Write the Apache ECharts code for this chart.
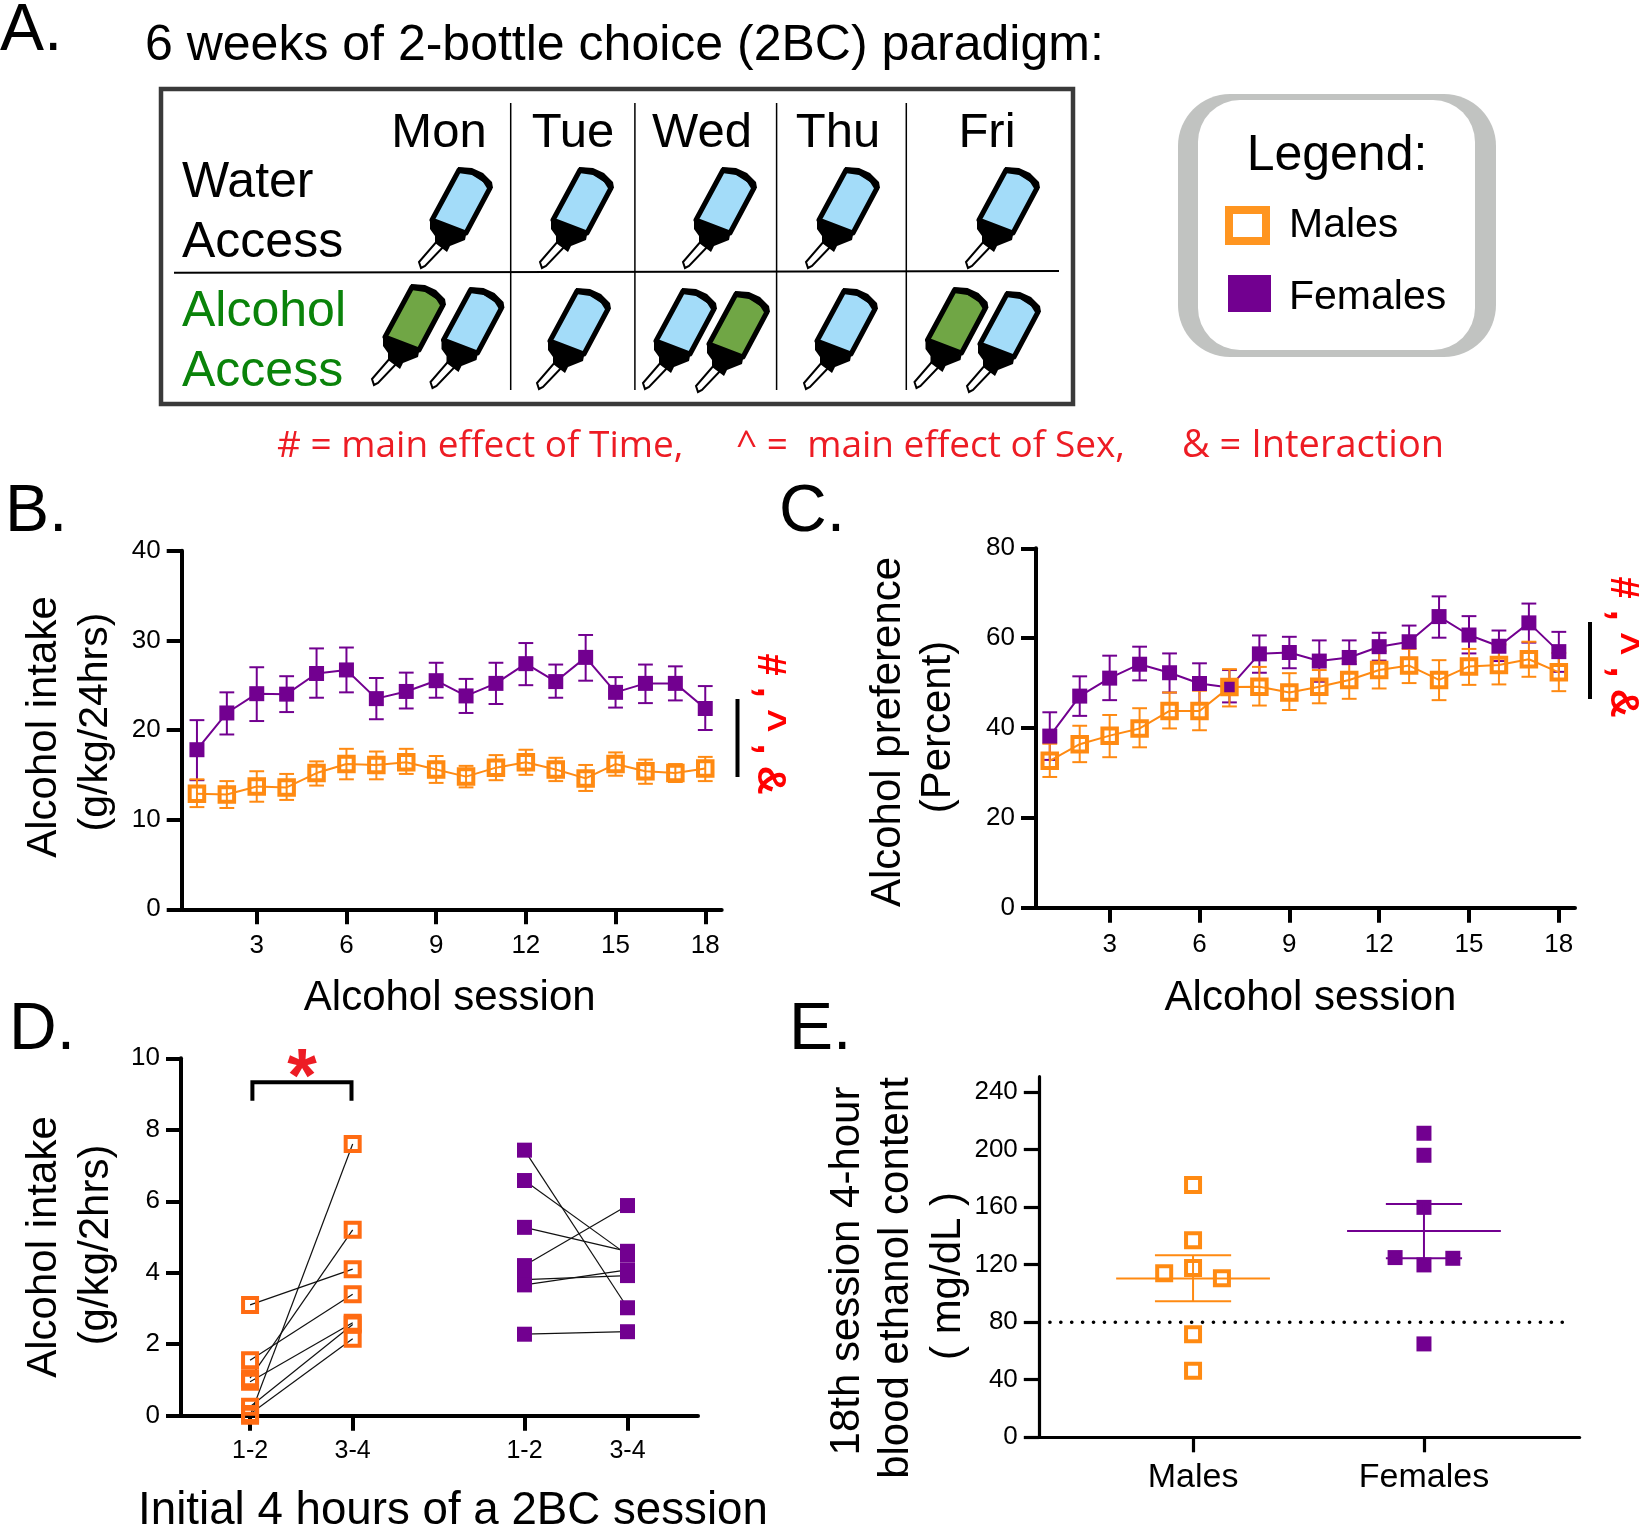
<!DOCTYPE html>
<html><head><meta charset="utf-8">
<style>html,body{margin:0;padding:0;background:#fff}#c{width:1640px;height:1525px}</style>
<script src="https://cdn.jsdelivr.net/npm/echarts@6/dist/echarts.min.js"></script>
</head><body><div id="c"></div>
<script>
// ---------- data ----------
const sessions = [1,2,3,4,5,6,7,8,9,10,11,12,13,14,15,16,17,18];
const sessionTicks = [3,6,9,12,15,18];

const intakeFemales = [17.8,21.9,24.05,24,26.3,26.7,23.5,24.3,25.5,23.8,25.2,27.4,25.4,28.1,24.2,25.2,25.2,22.4];
const intakeFemalesHi = [21.1,24.2,27,26,29.1,29.2,25.8,26.4,27.5,25.7,27.5,29.7,27.3,30.6,25.9,27.3,27.1,24.9];
const intakeFemalesLo = [14.4,19.5,21,22,23.6,24.2,21.2,22.4,23.6,21.9,22.9,25,23.6,25.5,22.5,23,23.3,20];
const intakeMales = [12.9,12.8,13.7,13.6,15.2,16.2,16.1,16.4,15.6,14.8,15.8,16.4,15.6,14.6,16.2,15.4,15.2,15.7];
const intakeMalesHi = [14.5,14.3,15.4,15.1,16.5,17.9,17.6,17.9,17.1,16,17.2,17.8,16.9,16.1,17.5,16.7,16.2,17];
const intakeMalesLo = [11.4,11.3,12,12.2,13.8,14.5,14.5,15.1,14.1,13.6,14.4,15,14.3,13.2,14.9,14,14.2,14.3];

const prefFemales = [38.2,47.1,51.1,54.2,52.3,49.9,49,56.5,56.8,54.9,55.7,58.1,59.2,64.8,60.7,58.2,63.4,57];
const prefFemalesHi = [43.5,51.5,56.1,58.1,56.6,54.4,52.9,60.6,60.3,59.5,59.5,61.2,62.8,69.3,64.9,61.7,67.7,61.4];
const prefFemalesLo = [32.9,42.7,46.2,50.6,47.9,45.5,45.7,52.3,53.3,50.3,54.2,55,55.6,60.1,56.6,54.9,59,52.5];
const prefMales = [32.7,36.4,38.3,39.9,43.8,43.8,49.1,49.2,47.9,49.2,50.7,52.9,53.9,50.7,53.7,54,55.3,52.4];
const prefMalesHi = [36.5,40.5,42.9,44.4,47.9,48.3,53.1,53.6,52.2,52.9,54.8,57.1,57.6,55.1,57.6,58.6,59.2,56.7];
const prefMalesLo = [29.1,32.4,33.5,35.7,39.9,39.5,44.8,45,44,45.5,46.5,48.8,50,46.2,49.6,49.7,51.4,48.2];

const hourLabels = ['1-2','3-4','1-2','3-4'];
const hourTicks = [1,2,3.674,4.678];
const hoursMalesEarly = [0,1.05,3.1,1.55,0.95,0.25,0.05];
const hoursMalesLate = [7.6,5.2,4.1,3.4,2.6,2.55,2.15];
const hoursFemalesEarly = [7.43,6.58,5.27,4.2,3.81,3.66,2.28];
const hoursFemalesLate = [3.02,4.5,4.6,5.88,3.92,4.08,2.35];

const becGroups = ['Males','Females'];
const becMales = [175.4,136.9,117.7,114,110.5,71.6,46.3];
const becMalesSlot = [0,0,0,-1,1,0,0];
const becFemales = [211.3,196,159.8,124.9,124.4,119.8,64.9];
const becFemalesSlot = [0,0,0,-1,1,0,0];
const becMean = [110.3,143.4];
const becHi = [126.5,162.2];
const becLo = [94.5,124.4];
const becThreshold = 80;
const becTicks = [0,40,80,120,160,200,240];

const dayNames = ['Mon','Tue','Wed','Thu','Fri'];

// ---------- style ----------
const ORANGE='#ff8a12', ORANGE2='#ff6b12', PURPLE='#720090', RED='#ed1c24', FONT='"Liberation Sans",Arial,sans-serif';
const BLUE='#a3dcf9', GREEN='#70a645';

function T(x,base,text,size,o={}){
  return {type:'text',x,y:base-0.30*size,z:20,style:{text,font:(o.weight||'normal')+' '+size+'px '+(o.family||FONT),fill:o.color||'#000',align:o.align||'left',verticalAlign:'middle'}};
}
function R(cx,cy,text,size,o={}){ // rotated, centred
  return {type:'text',x:cx,y:cy,rotation:o.rot===undefined?Math.PI/2:o.rot,z:20,style:{text,font:(o.weight||'normal')+' '+size+'px '+(o.family||FONT),fill:o.color||'#000',align:'center',verticalAlign:'middle'}};
}
function L(x1,y1,x2,y2,w,c){return {type:'line',z:15,shape:{x1,y1,x2,y2},style:{stroke:c||'#000',lineWidth:w}};}
function poly(points,style){return {type:'polygon',z:10,shape:{points},style};}
function bottle(x,y,fill){
  return {type:'group',x,y,z:10,children:[
    poly([[18,-27],[26,-23],[5,-1],[1,1],[-1,-5]],{fill:'#fff',stroke:'#000',lineWidth:2}),
    poly([[10,-48],[46,-32],[45,-27],[30,-21],[27,-15],[15,-24],[15,-31],[10,-38]],{fill:'#000'}),
    poly([[39,-97],[50,-96],[60,-91],[68,-84],[70,-79],[46,-34],[12,-47]],{fill,stroke:'#000',lineWidth:5,lineJoin:'round'}),
    poly([[38,-100],[52,-99],[63,-94],[72,-85],[73,-79],[68,-77],[63,-85],[52,-92],[38,-94]],{fill:'#000'})
  ]};
}
const bottleTips=[[420,267,BLUE],[541,267,BLUE],[684,267,BLUE],[807,267,BLUE],[967,267,BLUE],
  [373,384,GREEN],[431.5,387,BLUE],[538,388,BLUE],[644,388,BLUE],[697,391,GREEN],[805,388,BLUE],[915.5,387,GREEN],[968,391,BLUE]];
const dayCentres=[439,573,702,838,987];

const graphics=[
  T(0,52,'A.',66),T(5,533,'B.',66),T(779,533,'C.',66),T(9,1051,'D.',66),T(789,1051,'E.',66),
  T(145,61,'6 weeks of 2-bottle choice (2BC) paradigm:',50),
  {type:'rect',z:5,shape:{x:161,y:89,width:912,height:315},style:{fill:'#fff',stroke:'#3a3a3a',lineWidth:4.5}},
  L(510.7,103,510.7,390,1.5),L(634.9,103,634.9,390,1.5),L(776.6,103,776.6,390,1.5),L(906.3,103,906.3,390,1.5),
  L(174,272.7,1059,271,2),
  ...dayNames.map((d,i)=>T(dayCentres[i],148,d,49,{align:'center'})),
  T(182,198,'Water',50),T(182,258,'Access',50),
  T(182,327,'Alcohol',50,{color:'#0a830a'}),T(182,387,'Access',50,{color:'#0a830a'}),
  ...bottleTips.map(b=>bottle(b[0],b[1],b[2])),
  // legend box
  {type:'rect',z:5,shape:{x:1178,y:94,width:318,height:263,r:52},style:{fill:'#c1c3c1'}},
  {type:'rect',z:6,shape:{x:1198,y:100,width:277,height:250,r:42},style:{fill:'#fff'}},
  T(1337,171,'Legend:',50,{align:'center'}),
  {type:'rect',z:10,shape:{x:1229,y:210,width:37,height:31},style:{fill:'#fff',stroke:'#ff9520',lineWidth:8}},
  {type:'rect',z:10,shape:{x:1228,y:275,width:43,height:37},style:{fill:PURPLE}},
  T(1289,238,'Males',41),T(1289,310,'Females',41),
  // red key
  T(277,458,'# = main effect of Time,',37,{color:RED,family:'"Open Sans",sans-serif'}),
  T(736,458,'^ =  main effect of Sex,',37,{color:RED,family:'"Open Sans",sans-serif'}),
  T(1182,458,'& = Interaction',38,{color:RED,family:'"Open Sans",sans-serif'}),
  // y titles
  R(44,727,'Alcohol intake',42),R(96,722,'(g/kg/24hrs)',41),
  R(888,732,'Alcohol preference',42),R(938,727,'(Percent)',42),
  R(44,1247,'Alcohol intake',42),R(96,1245,'(g/kg/2hrs)',42),
  R(847,1271,'18th session 4-hour',42),R(896,1278,'blood ethanol content',42),R(948,1276,'( mg/dL )',42),
  // stat marks
  L(737.5,699,737.5,777,4),L(1590,622,1590,699,4),
  R(769,724,'# , ^ , &',40,{rot:-Math.PI/2,color:'#f00',weight:'bold'}),
  R(1622,647,'# , ^ , &',40,{rot:-Math.PI/2,color:'#f00',weight:'bold'}),
  {type:'polyline',z:15,shape:{points:[[252.4,1100.7],[252.4,1082.3],[351.5,1082.3],[351.5,1100.7]]},style:{stroke:'#000',lineWidth:4,fill:'none'}},
  T(302,1103,'*',76,{align:'center',color:RED,weight:'bold'}),
  // x title of panel D
  T(453,1525,'Initial 4 hours of a 2BC session',45.7,{align:'center'})
];

// ---------- helpers ----------
function whisker(name,xIdx,yIdx,xs,lo,hi,color,capPx){
  return {type:'custom',name,xAxisIndex:xIdx,yAxisIndex:yIdx,clip:false,z:2,
    encode:{x:0,y:[1,2]},data:xs.map((x,i)=>[x,lo[i],hi[i]]),
    renderItem(p,api){
      const x=api.value(0),a=api.coord([x,api.value(1)]),b=api.coord([x,api.value(2)]);
      const s={stroke:color,lineWidth:2};
      return {type:'group',children:[
        {type:'line',shape:{x1:a[0],y1:a[1],x2:b[0],y2:b[1]},style:s},
        {type:'line',shape:{x1:a[0]-capPx,y1:a[1],x2:a[0]+capPx,y2:a[1]},style:s},
        {type:'line',shape:{x1:b[0]-capPx,y1:b[1],x2:b[0]+capPx,y2:b[1]},style:s}]};
    }};
}
const hollow=(c,w)=>({color:'rgba(255,255,255,0)',borderColor:c,borderWidth:w,opacity:1});
function trace(name,xIdx,yIdx,xs,ys,color,male){
  return {type:'line',name,xAxisIndex:xIdx,yAxisIndex:yIdx,clip:false,z:3,symbol:'rect',
    symbolSize:male?14.5:15,showSymbol:true,data:xs.map((x,i)=>[x,ys[i]]),
    lineStyle:{color,width:2},itemStyle:male?hollow(color,4):{color}};
}
function xAxisBase(gridIndex,min,max,ticks,o={}){
  return {type:'value',gridIndex,min,max,splitLine:{show:false},
    axisLine:{onZero:false,lineStyle:{color:'#000',width:o.w||4}},
    axisTick:{show:true,customValues:ticks,length:15,lineStyle:{color:'#000',width:o.w||4}},
    axisLabel:{customValues:ticks,margin:o.margin||24,fontFamily:FONT,fontSize:o.size||26,color:'#000',
      formatter:o.fmt||(v=>String(v)),showMinLabel:true,showMaxLabel:true,hideOverlap:false},
    name:o.name||'',nameLocation:'middle',nameGap:o.gap||76,
    nameTextStyle:{fontFamily:FONT,fontSize:o.nameSize||42,color:'#000',padding:o.pad||0}};
}
function yAxisBase(gridIndex,max,interval,o={}){
  const a={type:'value',gridIndex,min:0,max,splitLine:{show:false},
    axisLine:{onZero:false,lineStyle:{color:'#000',width:o.w||4}},
    axisTick:{show:true,length:15,lineStyle:{color:'#000',width:o.w||4}},
    axisLabel:{margin:21,fontFamily:FONT,fontSize:26,color:'#000',showMaxLabel:true,hideOverlap:false}};
  if(interval) a.interval=interval;
  if(o.ticks){a.axisTick.customValues=o.ticks;a.axisLabel.customValues=o.ticks;}
  return a;
}

// panel D
const dLines=[];
hoursMalesEarly.forEach((v,i)=>dLines.push({type:'line',xAxisIndex:2,yAxisIndex:2,clip:false,z:3,symbol:'none',
  data:[[hourTicks[0],v],[hourTicks[1],hoursMalesLate[i]]],lineStyle:{color:'#111',width:1.2}}));
hoursFemalesEarly.forEach((v,i)=>dLines.push({type:'line',xAxisIndex:2,yAxisIndex:2,clip:false,z:3,symbol:'none',
  data:[[hourTicks[2],v],[hourTicks[3],hoursFemalesLate[i]]],lineStyle:{color:'#111',width:1.2}}));
const dot=(name,xi,data,male,c,size,bw)=>({type:'scatter',name,xAxisIndex:xi,yAxisIndex:xi,clip:false,z:4,symbol:'rect',
  symbolSize:size,data,itemStyle:male?hollow(c,bw):{color:c,opacity:1}});

// panel E
const JIT=0.125;
const becSummary={type:'custom',xAxisIndex:3,yAxisIndex:3,clip:false,z:5,encode:{x:0,y:[1,2,3]},
  data:[[1,becLo[0],becHi[0],becMean[0]],[2,becLo[1],becHi[1],becMean[1]]],
  renderItem(p,api){
    const x=api.value(0),c=x===1?ORANGE:PURPLE,s={stroke:c,lineWidth:2};
    const h=(v,d)=>{const a=api.coord([x-d,v]),b=api.coord([x+d,v]);return {type:'line',shape:{x1:a[0],y1:a[1],x2:b[0],y2:b[1]},style:s};};
    const a=api.coord([x,api.value(1)]),b=api.coord([x,api.value(2)]);
    return {type:'group',children:[h(api.value(3),0.333),h(api.value(1),0.165),h(api.value(2),0.165),
      {type:'line',shape:{x1:a[0],y1:a[1],x2:b[0],y2:b[1]},style:s}]};
  }};
const becLine={type:'line',xAxisIndex:3,yAxisIndex:3,symbol:'none',z:3,clip:false,
  data:[[0.38,becThreshold],[2.63,becThreshold]],
  lineStyle:{color:'#000',width:3.6,type:[0.1,10.8],cap:'round'}};

const option={animation:false,backgroundColor:'#fff',graphic:{elements:graphics},
  grid:[
    {left:181.7,top:550.7,width:540,height:358.6},
    {left:1036,top:548.3,width:539,height:359.4},
    {left:181,top:1058.3,width:517,height:357.4},
    {left:1038.8,top:1076.7,width:540.8,height:360.6}
  ],
  xAxis:[
    xAxisBase(0,0.49,18.55,sessionTicks,{name:'Alcohol session',gap:68,pad:[0,4,0,0]}),
    xAxisBase(1,0.54,18.54,sessionTicks,{name:'Alcohol session',gap:70,pad:[0,0,0,10]}),
    xAxisBase(2,0.327,5.365,hourTicks,{fmt:v=>hourLabels[hourTicks.indexOf(v)]||'',size:25,margin:23}),
    xAxisBase(3,0.332,2.674,[1,2],{fmt:v=>becGroups[v-1]||'',size:34,w:3.2,margin:23})
  ],
  yAxis:[
    yAxisBase(0,40,10),yAxisBase(1,80,20),yAxisBase(2,10,2),
    yAxisBase(3,250.6,0,{ticks:becTicks,w:3.2})
  ],
  series:[
    whisker('Females',0,0,sessions,intakeFemalesLo,intakeFemalesHi,PURPLE,7.4),
    whisker('Males',0,0,sessions,intakeMalesLo,intakeMalesHi,ORANGE,7.4),
    trace('Females',0,0,sessions,intakeFemales,PURPLE,false),
    trace('Males',0,0,sessions,intakeMales,ORANGE,true),
    whisker('Females',1,1,sessions,prefFemalesLo,prefFemalesHi,PURPLE,7.4),
    whisker('Males',1,1,sessions,prefMalesLo,prefMalesHi,ORANGE,7.4),
    trace('Females',1,1,sessions,prefFemales,PURPLE,false),
    trace('Males',1,1,sessions,prefMales,ORANGE,true),
    ...dLines,
    dot('Males',2,hoursMalesEarly.map(v=>[hourTicks[0],v]).concat(hoursMalesLate.map(v=>[hourTicks[1],v])),true,ORANGE2,14,4),
    dot('Females',2,hoursFemalesEarly.map(v=>[hourTicks[2],v]).concat(hoursFemalesLate.map(v=>[hourTicks[3],v])),false,PURPLE,15),
    becLine,becSummary,
    dot('Males',3,becMales.map((v,i)=>[1+becMalesSlot[i]*JIT,v]),true,ORANGE,14,4),
    dot('Females',3,becFemales.map((v,i)=>[2+becFemalesSlot[i]*JIT,v]),false,PURPLE,15)
  ]};
echarts.init(document.getElementById('c')).setOption(option);
</script></body></html>
